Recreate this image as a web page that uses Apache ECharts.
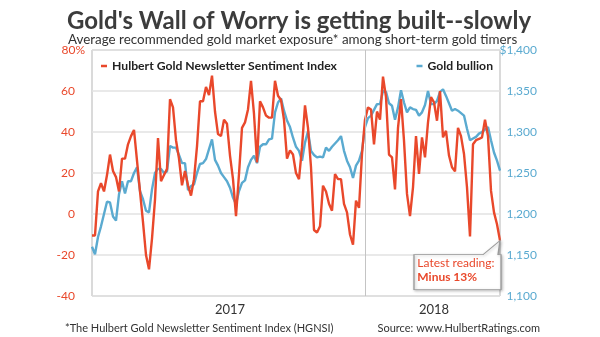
<!DOCTYPE html>
<html>
<head>
<meta charset="utf-8">
<script src="https://cdn.jsdelivr.net/npm/echarts@6/dist/echarts.min.js"></script>
<style>html,body{margin:0;padding:0;background:#fff;}#c{width:600px;height:337px;}</style>
</head>
<body>
<div id="c"></div>
<script>
// Hulbert Gold Newsletter Sentiment Index (%), sampled every 4 days from 2017-01-01
var hgnsi = [-10.5,-10.5,11,15,11,19,29,21,18,11,27,27,34,38,41,26,11,-4,-20,-27,
-12,7,37,16,19,22,56,52,36,27,14,21,14,9,17,33,55,55,62,58,
67.5,50,39,38,46,44,28.5,17,-1,19.5,42,44.7,51,65,48.8,25.2,55,52,48,47,
47,65,57.7,55.6,46,27,31,29,20,17,32.5,53,42,22.8,-7.8,-9,-6,13.8,11,5,
1.6,19.5,17,17,4.9,0.8,-10,-15,6.5,3,29.3,46,52,51,34,50,46,67,57,29,
27.6,12,42,56,35.8,9.8,-1,13,38,19.5,37.4,27.6,44.7,57,54.5,45.5,60,37.4,40.6,28.5,
22.8,20.8,42,38,29.3,13,-11,34,36,36.6,37.4,46,38,11.4,0.8,-5,-13];
// Gold bullion price ($/oz)
var gold = [1160,1151,1172,1185,1200,1215,1214,1197,1192,1224,1240,1225,1240,1240,1250,1257,1228,1218,1204,1202,
1230,1250,1255,1255,1250,1252,1283,1281,1281,1272,1262,1262,1229,1234,1236,1250,1261,1262,1267,1279,
1291,1266,1259,1250,1245,1240,1232,1220,1212,1228,1238,1241,1257,1266,1271,1262,1282,1285,1285,1291,
1292,1324,1336,1341,1326,1314,1306,1293,1282,1277,1265,1287,1301,1277,1272,1269,1270,1269,1281,1277,
1282,1286,1290,1295,1277,1265,1257,1244,1259,1265,1277,1306,1317,1320,1327,1334,1334,1350,1349,1335,
1332,1315,1330,1351,1336,1324,1330,1328,1327,1320,1324,1333,1350,1334,1334,1338,1349,1352,1344,1335,
1326,1328,1326,1323,1320,1304,1290,1292,1294,1298,1300,1303,1306,1290,1275,1265,1253];
var startDate = '2017-01-01';
var stepDays = 4;
var yearLabelIdx = [46, 114];
var yearBoundaryIdx = 91;
var leftTicks = {min: -40, max: 80, interval: 20};
var rightTicks = {min: 1100, max: 1400, interval: 50};
var latestText = ['Latest reading:', 'Minus 13%'];

var categories = [];
(function () {
  var d0 = new Date(startDate + 'T00:00:00Z');
  for (var i = 0; i < hgnsi.length; i++) {
    var d = new Date(d0.getTime() + i * stepDays * 86400000);
    categories.push(d.toISOString().slice(0, 10));
  }
})();

var RED = '#e9482b';
var BLUE = '#5aaad0';
var FONT = 'Lato';

var chart = echarts.init(document.getElementById('c'), null, {renderer: 'canvas'});
chart.setOption({
  animation: false,
  backgroundColor: '#fff',
  textStyle: {fontFamily: FONT},
  title: [
    {text: "Gold's Wall of Worry is getting built--slowly", left: 62, top: 4,
     textStyle: {fontSize: 24, fontWeight: 'bold', color: '#3c3c3c', fontFamily: FONT}},
    {text: 'Average recommended gold market exposure* among short-term gold timers', left: 63, top: 28,
     textStyle: {fontSize: 13.4, fontWeight: 'normal', color: '#333', fontFamily: FONT}},
    {text: '*The Hulbert Gold Newsletter Sentiment Index (HGNSI)', left: 60, top: 318,
     textStyle: {fontSize: 11, fontWeight: 'normal', color: '#333', fontFamily: FONT}},
    {text: 'Source: www.HulbertRatings.com', right: 55, top: 318,
     textStyle: {fontSize: 11, fontWeight: 'normal', color: '#333', fontFamily: FONT}}
  ],
  legend: [
    {data: ['Hulbert Gold Newsletter Sentiment Index'], left: 96, top: 55, icon: 'rect',
     itemWidth: 6, itemHeight: 2.5, itemGap: 4,
     textStyle: {fontSize: 12.2, fontWeight: 'bold', color: '#222', fontFamily: FONT}},
    {data: ['Gold bullion'], right: 102, top: 55, icon: 'rect',
     itemWidth: 6, itemHeight: 2.5, itemGap: 4,
     textStyle: {fontSize: 12.2, fontWeight: 'bold', color: '#222', fontFamily: FONT}}
  ],
  grid: {left: 92, right: 100, top: 50, bottom: 41, show: true, borderColor: '#b5b5b5', borderWidth: 1, backgroundColor: '#fff'},
  xAxis: {
    type: 'category', data: categories, boundaryGap: false,
    axisLine: {show: false}, axisTick: {show: false},
    axisLabel: {
      interval: function (idx) { return yearLabelIdx.indexOf(idx) >= 0; },
      formatter: function (v) { return v.slice(0, 4); },
      color: '#333', fontSize: 13, margin: 7, fontFamily: FONT
    },
    splitLine: {show: false}
  },
  yAxis: [
    {type: 'value', min: leftTicks.min, max: leftTicks.max, interval: leftTicks.interval,
     axisLine: {show: false}, axisTick: {show: false},
     splitLine: {show: true, lineStyle: {color: '#e2e2e2', width: 1.6}},
     axisLabel: {
       margin: 7,
       formatter: function (v) { return v === leftTicks.max ? '{n|' + v + '%}' : '{n|' + v + '}{g| }'; },
       rich: {n: {color: RED, fontSize: 12, fontFamily: FONT}, g: {width: 10, fontSize: 12}}
     }},
    {type: 'value', min: rightTicks.min, max: rightTicks.max, interval: rightTicks.interval,
     axisLine: {show: false}, axisTick: {show: false}, splitLine: {show: false},
     axisLabel: {
       margin: 37, align: 'right', color: BLUE, fontSize: 12, fontFamily: FONT,
       formatter: function (v) { var s = v.toLocaleString('en-US'); return v === rightTicks.max ? '$' + s : s; }
     }}
  ],
  series: [
    {name: 'Gold bullion', type: 'line', yAxisIndex: 1, data: gold, symbol: 'none',
     lineStyle: {color: BLUE, width: 2.4}, itemStyle: {color: BLUE}, z: 2,
     markLine: {silent: true, symbol: 'none', label: {show: false},
       lineStyle: {color: '#c4c4c4', width: 1, type: 'solid'},
       data: [{xAxis: categories[yearBoundaryIdx]}]}},
    {name: 'Hulbert Gold Newsletter Sentiment Index', type: 'line', yAxisIndex: 0, data: hgnsi, symbol: 'none',
     lineStyle: {color: RED, width: 2.4}, itemStyle: {color: RED}, z: 3,
     markPoint: {
       silent: true,
       data: [{coord: [categories[hgnsi.length - 1], hgnsi[hgnsi.length - 1]]}],
       symbol: 'path://M86,0 L84,14 L87,14 L87,49 L0,49 L0,14 L69,14 Z',
       symbolSize: [87, 49], symbolKeepAspect: false, symbolOffset: [-42.5, 24.5],
       itemStyle: {color: '#fff', borderColor: '#9a9a9a', borderWidth: 1,
         shadowColor: 'rgba(0,0,0,0.25)', shadowBlur: 3, shadowOffsetX: 1, shadowOffsetY: 1},
       label: {show: true, position: [4, 16], align: 'left', verticalAlign: 'top',
         formatter: '{a|' + latestText[0] + '}\n{b|' + latestText[1] + '}',
         rich: {a: {color: RED, fontSize: 12, lineHeight: 14, fontFamily: FONT},
                b: {color: RED, fontSize: 12, lineHeight: 14, fontWeight: 'bold', fontFamily: FONT}}}
     }}
  ]
});
</script>
</body>
</html>
